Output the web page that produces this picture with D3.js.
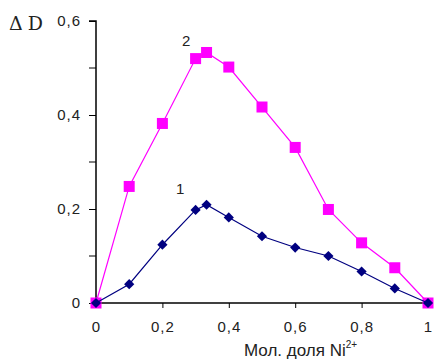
<!DOCTYPE html>
<html>
<head>
<meta charset="utf-8">
<script src="https://cdn.jsdelivr.net/npm/d3@7"></script>
<style>
  body { margin: 0; background: #fff; }
  text { font-family: Arial, "Liberation Sans", sans-serif; }
</style>
</head>
<body>
<script>
// mole fraction of Ni2+
var fractions = [0, 0.1, 0.2, 0.3, 0.333, 0.4, 0.5, 0.6, 0.7, 0.8, 0.9, 1];
var series1 = [0, 0.040, 0.124, 0.198, 0.209, 0.182, 0.142, 0.118, 0.100, 0.067, 0.031, 0];
var series2 = [0, 0.248, 0.382, 0.520, 0.533, 0.502, 0.417, 0.331, 0.199, 0.128, 0.075, 0];
var xTicks = [0, 0.2, 0.4, 0.6, 0.8, 1];
var yTicks = [0, 0.2, 0.4, 0.6];
var yMinor = [0.1, 0.3, 0.5];

var width = 435, height = 363;
var svg = d3.select("body").append("svg")
    .attr("width", width)
    .attr("height", height);

var x = d3.scaleLinear().domain([0, 1]).range([96, 428]),
    y = d3.scaleLinear().domain([0, 0.6]).range([303, 21]);

var fmt = d => String(d).replace(".", ",");

// y axis
var gy = svg.append("g")
    .attr("transform", `translate(${x(0)},0)`)
    .call(d3.axisLeft(y).tickValues(yTicks).tickSize(7).tickPadding(8).tickFormat(fmt));
gy.append("g").selectAll("line")
    .data(yMinor).enter().append("line")
    .attr("x1", -7).attr("x2", 0)
    .attr("y1", d => y(d)).attr("y2", d => y(d))
    .attr("stroke", "#000");

// x axis
var gx = svg.append("g")
    .attr("transform", `translate(0,${y(0)})`)
    .call(d3.axisBottom(x).tickValues(xTicks).tickSize(5).tickPadding(13).tickFormat(fmt));

[gx, gy].forEach(function(g) {
  g.select(".domain").attr("stroke", "#000").attr("stroke-width", 1.5);
  g.selectAll(".tick line").attr("stroke", "#000");
  g.selectAll(".tick text")
    .attr("fill", "#222")
    .style("font-size", "15px")
    .style("letter-spacing", "1px")
    .style("font-family", "Arial, 'Liberation Sans', sans-serif");
});
gy.select(".domain").attr("d", `M-7,${y(0.6)}H0V${y(0)}`);
gx.select(".domain").attr("d", `M${x(0)},0H${x(1)}`);

// axis titles
svg.append("text")
    .attr("x", 9).attr("y", 30)
    .style("font-family", "'DejaVu Serif', serif")
    .style("font-size", "19px")
    .style("letter-spacing", "5px")
    .attr("fill", "#222")
    .text("\u0394D");

var xt = svg.append("text")
    .attr("x", 244).attr("y", 356)
    .style("font-size", "17px")
    .attr("fill", "#222");
xt.append("tspan").text("Мол. доля Ni");
xt.append("tspan").attr("dy", -8).style("font-size", "10px").text("2+");

var line = d3.line()
    .x((d, i) => x(fractions[i]))
    .y(d => y(d));

// series 2 (magenta squares)
svg.append("path")
    .datum(series2)
    .attr("fill", "none")
    .attr("stroke", "#ff00ff")
    .attr("stroke-width", 1.2)
    .attr("d", line);
svg.append("g").selectAll("rect")
    .data(series2).enter().append("rect")
    .attr("x", (d, i) => x(fractions[i]) - 5.5)
    .attr("y", d => y(d) - 5.5)
    .attr("width", 11).attr("height", 11)
    .attr("fill", "#ff00ff");

// series 1 (navy diamonds)
svg.append("path")
    .datum(series1)
    .attr("fill", "none")
    .attr("stroke", "#000080")
    .attr("stroke-width", 1.2)
    .attr("d", line);
svg.append("g").selectAll("path.dia")
    .data(series1).enter().append("path")
    .attr("class", "dia")
    .attr("d", d3.symbol(d3.symbolSquare, 52)())
    .attr("transform", (d, i) => `translate(${x(fractions[i])},${y(d)}) rotate(45)`)
    .attr("fill", "#000080");

// series labels
svg.append("text").attr("x", 182).attr("y", 46)
    .style("font-size", "15px").attr("fill", "#222").text("2");
svg.append("text").attr("x", 176).attr("y", 194)
    .style("font-size", "15px").attr("fill", "#222").text("1");
</script>
</body>
</html>
